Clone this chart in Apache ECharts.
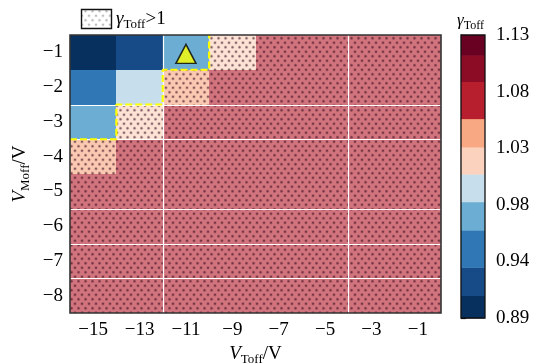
<!DOCTYPE html>
<html><head><meta charset="utf-8">
<script src="https://cdn.jsdelivr.net/npm/echarts@6/dist/echarts.min.js"></script>
<style>html,body{margin:0;padding:0;background:#fff}#c{width:540px;height:363px}</style>
</head><body><div id="c"></div>
<script>
// ---------- data ----------
const vToff = [-15, -13, -11, -9, -7, -5, -3, -1];
const vMoff = [-1, -2, -3, -4, -5, -6, -7, -8];
const gammaM1 = [0.900, 0.921, 0.976, 1.022, 1.072, 1.072, 1.072, 1.072];
const gammaM2 = [0.950, 0.998, 1.046, 1.072, 1.072, 1.072, 1.072, 1.072];
const gammaM3 = [0.976, 1.022, 1.072, 1.072, 1.072, 1.072, 1.072, 1.072];
const gammaM4 = [1.046, 1.072, 1.072, 1.072, 1.072, 1.072, 1.072, 1.072];
const gammaM5 = [1.072, 1.072, 1.072, 1.072, 1.072, 1.072, 1.072, 1.072];
const gammaM6 = [1.072, 1.072, 1.072, 1.072, 1.072, 1.072, 1.072, 1.072];
const gammaM7 = [1.072, 1.072, 1.072, 1.072, 1.072, 1.072, 1.072, 1.072];
const gammaM8 = [1.072, 1.072, 1.072, 1.072, 1.072, 1.072, 1.072, 1.072];
const gammaRows = [gammaM1, gammaM2, gammaM3, gammaM4, gammaM5, gammaM6, gammaM7, gammaM8];

const cbBounds = [0.89, 0.909, 0.933, 0.9645, 0.9885, 1.012, 1.035, 1.059, 1.0905, 1.113, 1.13];
const cbColors = ['#07305e', '#164b87', '#3078b5', '#6badd3', '#c7dfec', '#fbd2bd', '#f8a883', '#b71f2e', '#8c0b25', '#690122'];
const cbTickValues = [0.89, 0.938, 0.986, 1.034, 1.082, 1.13];
const cbTickLabels = ['0.89', '0.94', '0.98', '1.03', '1.08', '1.13'];

const markerPoint = [-11, -1];
const boundaryX = [-16, -14, -14, -12, -12, -10, -10];
const boundaryY = [-3.5, -3.5, -2.5, -2.5, -1.5, -1.5, -0.5];
const gridLineX = [-12, -4];
const gridLineY = [-2.5, -3.5, -5.5, -6.5, -7.5];
const cellHalfW = 1, cellHalfH = 0.5;

// ---------- helpers ----------
const FONT = 'Liberation Serif';
const G = {left: 70, top: 35, width: 371, height: 278};
const CB = {left: 461, top: 35, width: 24, height: 283};

function colorOf(v) {
  for (let i = 0; i < cbColors.length; i++) if (v < cbBounds[i + 1]) return cbColors[i];
  return cbColors[cbColors.length - 1];
}
function makeDots(alphaOuter, alphaInner, rgb) {
  const c = document.createElement('canvas'); c.width = 7; c.height = 9;
  const g = c.getContext('2d');
  [[1.5, 2.2], [5, 6.7]].forEach(([x, y]) => {
    g.fillStyle = 'rgba(' + rgb + ',' + alphaOuter + ')';
    g.beginPath(); g.arc(x, y, 1.7, 0, Math.PI * 2); g.fill();
    g.fillStyle = 'rgba(' + rgb + ',' + alphaInner + ')';
    g.beginPath(); g.arc(x, y, 1.0, 0, Math.PI * 2); g.fill();
  });
  return c;
}
const dotCanvas = makeDots(0.2, 0.5, '50,10,25');
const legendDots = makeDots(0.10, 0.28, '60,60,60');
const minus = v => String(v).replace('-', '\u2212');

const cellData = [];
vMoff.forEach((y, r) => vToff.forEach((x, c) => cellData.push([x, y, gammaRows[r][c]])));
const cbData = cbColors.map((col, i) => [cbBounds[i], cbBounds[i + 1], i]);
const stepData = boundaryX.map((x, i) => [x, boundaryY[i]]);

const subRich = (big, small) => ({
  i: {fontFamily: FONT, fontStyle: 'italic', fontSize: big, color: '#000', lineHeight: big + 5, verticalAlign: 'middle'},
  s: {fontFamily: FONT, fontSize: small, color: '#000', lineHeight: small + 1, verticalAlign: 'bottom'},
  n: {fontFamily: FONT, fontSize: big, color: '#000', lineHeight: big + 5, verticalAlign: 'middle'}
});

const chart = echarts.init(document.getElementById('c'), null, {renderer: 'canvas'});
chart.setOption({
  animation: false,
  backgroundColor: '#fff',
  textStyle: {fontFamily: FONT},
  grid: [
    {left: G.left, top: G.top, width: G.width, height: G.height, containLabel: false, outerBoundsMode: 'none'},
    {left: CB.left, top: CB.top, width: CB.width, height: CB.height, containLabel: false, outerBoundsMode: 'none'}
  ],
  xAxis: [
    {gridIndex: 0, type: 'value', min: -16, max: 0,
     axisLine: {show: false}, axisTick: {show: false}, splitLine: {show: false},
     axisLabel: {customValues: vToff, formatter: minus, fontFamily: FONT, fontSize: 19, color: '#000', margin: 8},
     name: '{i|V}{s|Toff}{n|/V}', nameLocation: 'middle', nameGap: 27,
     nameTextStyle: {fontFamily: FONT, rich: subRich(19, 13)}},
    {gridIndex: 1, type: 'value', min: 0, max: 1, show: false}
  ],
  yAxis: [
    {gridIndex: 0, type: 'value', min: -8.5, max: -0.5,
     axisLine: {show: false}, axisTick: {show: false}, splitLine: {show: false},
     axisLabel: {customValues: vMoff, formatter: minus, fontFamily: FONT, fontSize: 19, color: '#000', margin: 7},
     name: '{i|V}{s|Moff}{n|/V}', nameLocation: 'middle', nameGap: 36, nameRotate: 90,
     nameTextStyle: {fontFamily: FONT, rich: subRich(19, 13)}},
    {gridIndex: 1, type: 'value', min: cbBounds[0], max: cbBounds[cbBounds.length - 1], position: 'right',
     axisLine: {show: true, lineStyle: {color: '#000', width: 1.2}},
     axisTick: {show: true, inside: false, length: 5, customValues: cbTickValues, lineStyle: {color: '#000', width: 1.2}},
     splitLine: {show: false},
     axisLabel: {customValues: cbTickValues, margin: 11, fontFamily: FONT, fontSize: 19, color: '#000',
       formatter: v => { let bi = 0; cbTickValues.forEach((t, i) => { if (Math.abs(t - v) < Math.abs(cbTickValues[bi] - v)) bi = i; }); return cbTickLabels[bi]; }}}
  ],
  series: [
    {type: 'custom', xAxisIndex: 0, yAxisIndex: 0, clip: true, z: 2, data: cellData,
     renderItem: function (params, api) {
       const x = api.value(0), y = api.value(1), v = api.value(2);
       const a = api.coord([x - cellHalfW, y + cellHalfH]), b = api.coord([x + cellHalfW, y - cellHalfH]);
       const x0 = Math.round(a[0]), y0 = Math.round(a[1]), x1 = Math.round(b[0]), y1 = Math.round(b[1]);
       const shape = {x: x0, y: y0, width: x1 - x0, height: y1 - y0};
       const hatched = v > 1;
       const children = [{type: 'rect', shape: shape, style: {fill: colorOf(v), opacity: hatched ? 0.62 : 1}}];
       if (hatched) children.push({type: 'rect', shape: shape, style: {fill: {image: dotCanvas, repeat: 'repeat'}}});
       return {type: 'group', children: children};
     }},
    {type: 'custom', xAxisIndex: 0, yAxisIndex: 0, z: 3, silent: true,
     data: gridLineX.map(x => [x, 0]).concat(gridLineY.map(y => [1, y])),
     renderItem: function (params, api) {
       let shape;
       if (params.dataIndex < gridLineX.length) {
         const p = api.coord([api.value(0), -8.5]), q = api.coord([api.value(0), -0.5]);
         const xx = Math.round(p[0]) + 0.5;
         shape = {x1: xx, y1: p[1], x2: xx, y2: q[1]};
       } else {
         const p = api.coord([-16, api.value(1)]), q = api.coord([0, api.value(1)]);
         const yy = Math.round(p[1]) + 0.5;
         shape = {x1: p[0], y1: yy, x2: q[0], y2: yy};
       }
       return {type: 'line', shape: shape, style: {stroke: '#fff', lineWidth: 1.2}};
     }},
    {type: 'line', xAxisIndex: 0, yAxisIndex: 0, z: 4, data: stepData, symbol: 'none', silent: true,
     lineStyle: {color: '#ffff00', width: 2.2, type: [7, 3]}},
    {type: 'scatter', xAxisIndex: 0, yAxisIndex: 0, z: 5, data: [markerPoint], symbol: 'triangle',
     symbolSize: [20, 19], symbolOffset: [0, 1.5], silent: true,
     itemStyle: {color: '#ffff00', borderColor: '#000', borderWidth: 1.5}},
    {type: 'custom', xAxisIndex: 1, yAxisIndex: 1, z: 2, data: cbData, silent: true,
     renderItem: function (params, api) {
       const a = api.coord([0, api.value(1)]), b = api.coord([1, api.value(0)]);
       return {type: 'rect', shape: {x: a[0], y: a[1], width: b[0] - a[0], height: b[1] - a[1] + 0.4},
               style: {fill: cbColors[api.value(2)]}};
     }}
  ],
  graphic: [
    {type: 'rect', z: 100, silent: true, shape: {x: G.left, y: G.top, width: G.width, height: G.height},
     style: {fill: 'none', stroke: '#333', lineWidth: 1.6}},
    {type: 'rect', z: 100, silent: true, shape: {x: CB.left, y: CB.top, width: CB.width, height: CB.height},
     style: {fill: 'none', stroke: '#111', lineWidth: 1.3}},
    {type: 'rect', z: 100, silent: true, shape: {x: 81.5, y: 9.5, width: 30, height: 19},
     style: {fill: {image: legendDots, repeat: 'repeat'}, stroke: '#111', lineWidth: 1.4}},
    {type: 'text', z: 100, silent: true, x: 116, y: 19,
     style: {text: '{i|γ}{s|Toff}{n|>1}', rich: subRich(19, 13), align: 'left', verticalAlign: 'middle'}},
    {type: 'text', z: 100, silent: true, x: 457, y: 21,
     style: {text: '{i|γ}{s|Toff}', rich: subRich(17, 12), align: 'left', verticalAlign: 'middle'}}
  ]
});
</script></body></html>
